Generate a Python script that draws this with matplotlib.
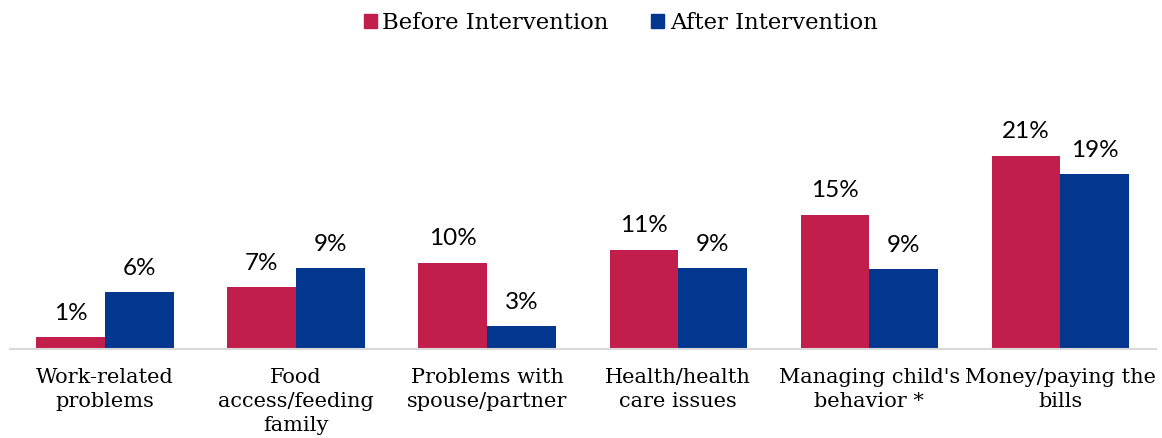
import matplotlib
matplotlib.use("Agg")
import matplotlib.pyplot as plt
import numpy as np
from matplotlib.patches import Patch

categories = ["Work-related\nproblems", "Food\naccess/feeding\nfamily", "Problems with\nspouse/partner",
              "Health/health\ncare issues", "Managing child's\nbehavior *", "Money/paying the\nbills"]
before = [1.3, 6.7, 9.4, 10.8, 14.6, 21.0]
after = [6.2, 8.8, 2.5, 8.8, 8.7, 19.0]
before_labels = ["1%", "7%", "10%", "11%", "15%", "21%"]
after_labels = ["6%", "9%", "3%", "9%", "9%", "19%"]

RED = "#C21E4B"
BLUE = "#03378F"
SERIF = "DejaVu Serif"
SANS = "Lato"

W, H = 1162, 438
fig = plt.figure(figsize=(W / 100, H / 100), dpi=100)
ax = fig.add_axes([9.5 / W, (H - 349) / H, (1156 - 9.5) / W, 289 / H])

x = np.arange(len(categories))
bw = 0.36
b1 = ax.bar(x - bw / 2, before, bw, color=RED)
b2 = ax.bar(x + bw / 2, after, bw, color=BLUE)

for bars, labs in ((b1, before_labels), (b2, after_labels)):
    for rect, lab in zip(bars, labs):
        ax.annotate(lab, (rect.get_x() + rect.get_width() / 2, rect.get_height()),
                    xytext=(0, 12.5), textcoords="offset points", ha="center", va="baseline",
                    fontsize=17.5, family=SANS, color="black")

ax.set_xlim(-0.5, len(categories) - 0.5)
ax.set_ylim(0, 289 / 9.2)
ax.set_yticks([])
ax.set_xticks(x)
ax.set_xticklabels(categories, family=SERIF, fontsize=15, linespacing=1.32)
ax.tick_params(axis="x", length=0, pad=14)
for s in ["top", "right", "left"]:
    ax.spines[s].set_visible(False)
ax.spines["bottom"].set_color("#D9D9D9")
ax.spines["bottom"].set_linewidth(1.5)

handles = [Patch(color=RED, label="Before Intervention"), Patch(color=BLUE, label="After Intervention")]
fig.legend(handles=handles, loc="upper center", bbox_to_anchor=(0.534, 1.02), ncol=2, frameon=False,
           prop={"family": SERIF, "size": 16.4}, handlelength=0.57, handleheight=0.57,
           handletextpad=0.26, columnspacing=1.84)

fig.savefig("out.png", dpi=100)
